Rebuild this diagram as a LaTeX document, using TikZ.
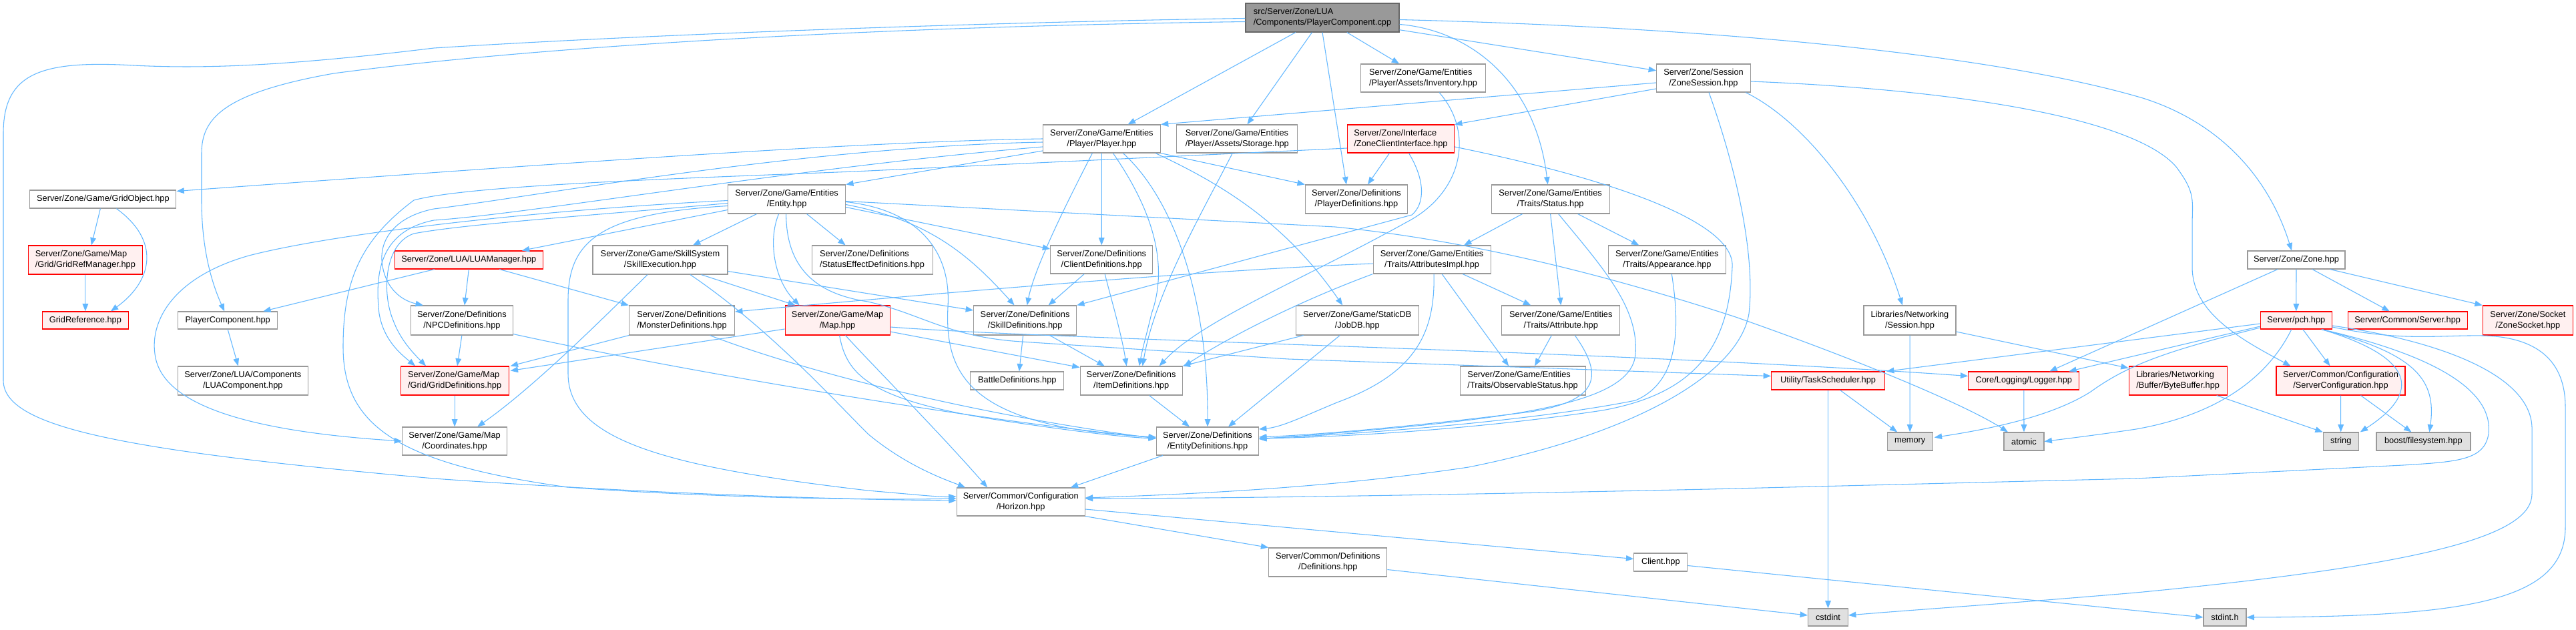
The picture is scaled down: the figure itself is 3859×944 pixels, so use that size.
\documentclass[tikz,border=0pt]{standalone}
\usepackage{fontspec}
\setmainfont{Liberation Sans}
\usetikzlibrary{arrows.meta,calc}
\definecolor{edgec}{HTML}{63B8FF}
\definecolor{nodeb}{HTML}{999999}
\definecolor{redb}{HTML}{FF0000}
\definecolor{redf}{HTML}{FFF0F0}
\definecolor{rootf}{HTML}{999999}
\definecolor{rootb}{HTML}{666666}
\definecolor{sysf}{HTML}{E0E0E0}
\tikzset{
  nb/.style={draw=nodeb, fill=white, line width=0.85pt, inner sep=0pt, font=\fontsize{9.6}{12.2}\selectfont, align=center},
  nl/.style={nb, align=left},
  rn/.style={nb, draw=redb, fill=redf},
  rnl/.style={rn, align=left},
  rootn/.style={nb, draw=rootb, fill=rootf, align=left},
  sysn/.style={nb, fill=sysf},
  edg/.style={draw=edgec, line width=0.8pt, -{Triangle[length=8.5pt,width=6.5pt]}},
}
\newcommand{\nd}[6]{\node[#5, minimum width=#3*0.75pt, minimum height=#4*0.75pt] (#1) at (#2) {#6};}
\begin{document}
\begin{tikzpicture}[x=0.75pt,y=-0.75pt]
\fill[white] (0,0) rectangle (3859,944);
\useasboundingbox (0,0) rectangle (3859,944);
% nodes
\nd{root}{1981,26.5}{230}{43}{rootn}{src/Server/Zone/LUA\\/Components/PlayerComponent.cpp}
\nd{inv}{2132,117}{187}{42}{nl}{Server/Zone/Game/Entities\\/Player/Assets/Inventory.hpp}
\nd{zsess}{2552,117}{141}{42}{nb}{Server/Zone/Session\\/ZoneSession.hpp}
\nd{player}{1650.4,208}{176}{42}{nb}{Server/Zone/Game/Entities\\/Player/Player.hpp}
\nd{storage}{1853.3,208}{181}{42}{nl}{Server/Zone/Game/Entities\\/Player/Assets/Storage.hpp}
\nd{zci}{2098.5,208}{160}{42}{rnl}{Server/Zone/Interface\\/ZoneClientInterface.hpp}
\nd{gridobj}{154.4,298.5}{219}{27}{nb}{Server/Zone/Game/GridObject.hpp}
\nd{entity}{1178.6,298.5}{176}{43}{nb}{Server/Zone/Game/Entities\\/Entity.hpp}
\nd{pdef}{2031.9,298.5}{153}{43}{nb}{Server/Zone/Definitions\\/PlayerDefinitions.hpp}
\nd{status}{2322.6,298.5}{177}{43}{nb}{Server/Zone/Game/Entities\\/Traits/Status.hpp}
\nd{zone}{3440,389.5}{146}{27}{nb}{Server/Zone/Zone.hpp}
\nd{gridrefmgr}{127.9,389.5}{171}{43}{rnl}{Server/Zone/Game/Map\\/Grid/GridRefManager.hpp}
\nd{lua}{702.3,389.5}{222}{27}{rn}{Server/Zone/LUA/LUAManager.hpp}
\nd{skillexec}{989,389.5}{202}{43}{nb}{Server/Zone/Game/SkillSystem\\/SkillExecution.hpp}
\nd{sedef}{1306.6,389.5}{181}{43}{nl}{Server/Zone/Definitions\\/StatusEffectDefinitions.hpp}
\nd{clientdef}{1650.2,389}{153}{42}{nb}{Server/Zone/Definitions\\/ClientDefinitions.hpp}
\nd{attrimpl}{2145.1,389}{176}{42}{nb}{Server/Zone/Game/Entities\\/Traits/AttributesImpl.hpp}
\nd{appearance}{2497.3,389}{176}{42}{nb}{Server/Zone/Game/Entities\\/Traits/Appearance.hpp}
\nd{gridref}{127.9,480}{129}{26}{rn}{GridReference.hpp}
\nd{pcomp}{341.2,480}{149}{26}{nb}{PlayerComponent.hpp}
\nd{npcdef}{691.9,480}{153}{44}{nb}{Server/Zone/Definitions\\/NPCDefinitions.hpp}
\nd{monsterdef}{1021.5,480}{158}{44}{nl}{Server/Zone/Definitions\\/MonsterDefinitions.hpp}
\nd{map}{1254.6,480}{157}{44}{rn}{Server/Zone/Game/Map\\/Map.hpp}
\nd{skilldef}{1535.6,480}{154}{44}{nb}{Server/Zone/Definitions\\/SkillDefinitions.hpp}
\nd{jobdb}{2033.2,480}{184}{44}{nb}{Server/Zone/Game/StaticDB\\/JobDB.hpp}
\nd{attribute}{2338.3,480}{177}{44}{nb}{Server/Zone/Game/Entities\\/Traits/Attribute.hpp}
\nd{libsess}{2861,480}{138}{44}{nb}{Libraries/Networking\\/Session.hpp}
\nd{pch}{3439.8,480}{107}{26}{rn}{Server/pch.hpp}
\nd{server}{3606.7,480}{179}{26}{rn}{Server/Common/Server.hpp}
\nd{zsock}{3786.8,480}{135}{44}{rn}{Server/Zone/Socket\\/ZoneSocket.hpp}
\nd{luacomp}{363.8,570.5}{195}{43}{nb}{Server/Zone/LUA/Components\\/LUAComponent.hpp}
\nd{griddef}{681.1,570.5}{162}{43}{rnl}{Server/Zone/Game/Map\\/Grid/GridDefinitions.hpp}
\nd{battledef}{1523.8,570.5}{140}{27}{nb}{BattleDefinitions.hpp}
\nd{itemdef}{1694.6,570.5}{153}{43}{nb}{Server/Zone/Definitions\\/ItemDefinitions.hpp}
\nd{observ}{2281.1,570.5}{188}{43}{nl}{Server/Zone/Game/Entities\\/Traits/ObservableStatus.hpp}
\nd{tasksched}{2738.5,570.5}{170}{27}{rn}{Utility/TaskScheduler.hpp}
\nd{logger}{3031.8,570.5}{166}{27}{rn}{Core/Logging/Logger.hpp}
\nd{bytebuf}{3262.6,570.5}{147}{43}{rnl}{Libraries/Networking\\/Buffer/ByteBuffer.hpp}
\nd{servconf}{3506.5,570.5}{193}{43}{rn}{Server/Common/Configuration\\/ServerConfiguration.hpp}
\nd{coords}{681.1,661}{157}{42}{nb}{Server/Zone/Game/Map\\/Coordinates.hpp}
\nd{entdef}{1809,661}{153}{42}{nb}{Server/Zone/Definitions\\/EntityDefinitions.hpp}
\nd{memory}{2861.2,661.5}{68}{27}{sysn}{memory}
\nd{atomic}{3032,661.5}{60}{27}{sysn}{atomic}
\nd{string}{3506.7,661.5}{53}{27}{sysn}{string}
\nd{boost}{3630.4,661.5}{141}{27}{sysn}{boost/filesystem.hpp}
\nd{horizon}{1529.2,752}{192}{42}{nb}{Server/Common/Configuration\\/Horizon.hpp}
\nd{definitions}{1989.3,842.5}{177}{43}{nb}{Server/Common/Definitions\\/Definitions.hpp}
\nd{client}{2487.8,842.5}{80}{27}{nb}{Client.hpp}
\nd{cstdint}{2738.5,925}{60}{26}{sysn}{cstdint}
\nd{stdint}{3333,925}{64}{26}{sysn}{stdint.h}
% root edges
\draw[edg] (root) -- (player);
\draw[edg] (root) -- (storage);
\draw[edg] (root) -- (inv);
\draw[edg] (root) -- (zsess);
\draw[edg] (root.south) -- ($(pdef.north)+(-15,0)$);
\draw[edg] ($(root.east)+(0,10)$) .. controls (2200,45) and (2300,120) .. ($(status.north)+(-4,0)$);
\draw[edg] ($(root.east)+(0,3)$) .. controls (2600,42) and (3000,85) .. (3210,147) .. controls (3330,185) and (3400,270) .. ($(zone.north)+(-7,0)$);
\draw[edg] ($(root.west)+(0,1)$) .. controls (1500,33) and (1000,50) .. (650,72) .. controls (420,100) and (300,103) .. (200,98) .. controls (60,90) and (5,110) .. (5,200) -- (5,570) .. controls (5,640) and (180,675) .. (650,717) .. controls (900,735) and (1200,748) .. ($(horizon.west)+(0,-2)$);
\draw[edg] ($(root.west)+(0,6)$) .. controls (1300,40) and (800,70) .. (500,110) .. controls (330,140) and (302,180) .. (302,230) -- (302,300) .. controls (302,380) and (320,430) .. ($(pcomp.north)+(-5,0)$);
% zone session
\draw[edg] ($(zsess.west)+(0,7)$) -- (player.north east);
\draw[edg] ($(zsess.west)+(0,16)$) -- (zci.north east);
\draw[edg] ($(zsess.south east)+(-8,0)$) .. controls (2700,180) and (2800,300) .. ($(libsess.north)+(-11,0)$);
\draw[edg] ($(zsess.south)+(8,0)$) .. controls (2600,250) and (2630,380) .. (2620,470) .. controls (2605,560) and (2450,650) .. (2200,700) .. controls (2000,730) and (1800,740) .. ($(horizon.east)+(0,-6)$);
\draw[edg] ($(zsess.east)+(0,5)$) .. controls (2950,135) and (3200,180) .. (3260,250) .. controls (3290,290) and (3284,300) .. (3284,340) -- (3284,400) .. controls (3284,470) and (3360,510) .. ($(servconf.north)+(-75,0)$);
% player
\draw[edg] (player.west) .. controls (1300,212) and (900,240) .. ($(gridobj.east)+(0,-12)$);
\draw[edg] ($(player.west)+(0,5)$) .. controls (1200,220) and (800,295) .. (650,313) .. controls (590,325) and (570,360) .. (572,390) .. controls (575,430) and (600,450) .. ($(npcdef.north)+(-58,0)$);
\draw[edg] ($(player.west)+(0,18)$) -- (entity.north east);
\draw[edg] (player.south east) -- (pdef.north west);
\draw[edg] ($(player.south)+(-14,0)$) .. controls (1600,300) and (1550,400) .. ($(skilldef.north)+(3,0)$);
\draw[edg] (player.south) -- (clientdef.north);
\draw[edg] ($(player.south)+(17,0)$) .. controls (1730,320) and (1750,400) .. (1725,470) .. controls (1718,500) and (1712,520) .. ($(itemdef.north)+(12,0)$);
\draw[edg] ($(player.south)+(32,0)$) .. controls (1760,300) and (1810,450) .. (entdef.north);
\draw[edg] ($(player.south east)+(-8,0)$) .. controls (1840,280) and (1930,340) .. ($(jobdb.north)+(-22,0)$);
\draw[edg] ($(player.west)+(0,12)$) .. controls (1200,250) and (800,320) .. (650,330) .. controls (575,345) and (560,400) .. (568,470) .. controls (575,510) and (600,530) .. ($(griddef.north)+(-59,0)$);
% entity
\draw[edg] ($(entity.west)+(0,16)$) -- ($(lua.north east)+(-32,0)$);
\draw[edg] ($(entity.south)+(-45,0)$) -- ($(skillexec.north)+(49,0)$);
\draw[edg] ($(entity.south)+(30,0)$) -- ($(sedef.north)+(-40,0)$);
\draw[edg] ($(entity.south)+(-12,0)$) .. controls (1150,360) and (1160,420) .. ($(map.north)+(-57,0)$);
\draw[edg] ($(entity.east)+(0,12)$) -- ($(clientdef.west)+(0,-16)$);
\draw[edg] ($(entity.east)+(0,8)$) .. controls (1390,330) and (1450,380) .. ($(skilldef.north)+(-16,0)$);
\draw[edg] ($(entity.east)+(0,4)$) .. controls (1380,315) and (1425,380) .. (1420,460) .. controls (1415,560) and (1450,640) .. ($(entdef.west)+(0,-6)$);
\draw[edg] ($(entity.west)+(0,10)$) .. controls (900,320) and (851,360) .. (851,450) -- (851,560) .. controls (851,660) and (1000,700) .. (1300,735) .. controls (1380,742) and (1410,745) .. ($(horizon.west)+(0,-8)$);
\draw[edg] ($(entity.east)+(0,3)$) -- (2000,340) .. controls (2200,360) and (2400,410) .. (2600,475) .. controls (2800,545) and (2950,610) .. ($(atomic.north)+(-24,0)$);
\draw[edg] ($(entity.west)+(0,6)$) .. controls (900,322) and (700,335) .. (620,350) .. controls (575,365) and (572,440) .. (589,480) .. controls (600,510) and (620,530) .. ($(griddef.north)+(-43,0)$);
\draw[edg] ($(entity.west)+(0,2)$) .. controls (800,315) and (500,350) .. (373,383) .. controls (260,415) and (225,480) .. (232,530) .. controls (240,600) and (350,645) .. (coords.west);
\draw[edg] ($(entity.south)+(-1,0)$) .. controls (1178,400) and (1220,440) .. (1300,452) .. controls (1380,470) and (1420,505) .. (1530,512) -- (1930,538) -- ($(tasksched.west)+(0,-7)$);
% zone client interface
\draw[edg] ($(zci.south)+(-17,0)$) -- ($(pdef.north)+(17,0)$);
\draw[edg] ($(zci.south)+(12,0)$) .. controls (2135,270) and (2135,305) .. (2115,322) -- (skilldef.north east);
\draw[edg] ($(zci.east)+(0,12)$) .. controls (2400,265) and (2600,330) .. (2595,400) .. controls (2590,520) and (2540,590) .. (2400,615) .. controls (2200,645) and (2000,655) .. ($(entdef.east)+(0,-4)$);
\draw[edg] ($(zci.west)+(0,14)$) -- (1280,257) .. controls (1000,268) and (700,278) .. (620,300) .. controls (540,360) and (514,420) .. (514,520) .. controls (514,640) and (600,695) .. (850,730) .. controls (1050,745) and (1300,750) .. ($(horizon.west)+(0,-5)$);
% left part
\draw[edg] ($(gridobj.south)+(-4,0)$) -- ($(gridrefmgr.north)+(9,0)$);
\draw[edg] ($(gridobj.south)+(20,0)$) .. controls (240,360) and (230,420) .. ($(gridref.north)+(38,0)$);
\draw[edg] (gridrefmgr) -- (gridref);
\draw[edg] (pcomp.south) -- ($(luacomp.north)+(-7,0)$);
\draw[edg] ($(lua.south west)+(60,0)$) -- ($(pcomp.north east)+(-22,0)$);
\draw[edg] (lua.south) -- ($(npcdef.north)+(4,0)$);
\draw[edg] ($(lua.south)+(46,0)$) -- (monsterdef.north west);
\draw[edg] (npcdef.south) -- ($(griddef.north)+(4,0)$);
\draw[edg] ($(npcdef.south east)+(0,-2)$) .. controls (1050,562) and (1500,635) .. ($(entdef.west)+(0,-5)$);
\draw[edg] (monsterdef.south west) -- ($(griddef.north east)+(2,0)$);
\draw[edg] ($(monsterdef.south)+(42,0)$) .. controls (1200,555) and (1450,620) .. ($(entdef.west)+(0,-4)$);
\draw[edg] ($(map.west)+(0,13)$) -- ($(griddef.east)+(2,-15)$);
\draw[edg] ($(map.east)+(0,17)$) -- ($(itemdef.west)+(0,-20)$);
\draw[edg] ($(map.south)+(12,0)$) .. controls (1300,540) and (1400,640) .. ($(horizon.north)+(-50,0)$);
\draw[edg] ($(map.south)+(3,0)$) .. controls (1268,560) and (1300,600) .. (1500,630) .. controls (1600,645) and (1680,655) .. ($(entdef.west)+(0,-4)$);
\draw[edg] ($(map.east)+(0,10)$) .. controls (1600,510) and (2400,525) .. ($(logger.west)+(0,-7)$);
\draw[edg] ($(skillexec.south east)+(-40,0)$) -- ($(map.north)+(-63,0)$);
\draw[edg] ($(skillexec.south)+(-19,0)$) .. controls (900,480) and (800,580) .. ($(coords.north east)+(-45,0)$);
\draw[edg] ($(skillexec.south)+(45,0)$) .. controls (1150,490) and (1250,600) .. (1300,650) .. controls (1360,700) and (1420,720) .. ($(horizon.north)+(-83,0)$);
\draw[edg] ($(skillexec.east)+(0,17)$) -- ($(skilldef.west)+(0,-15)$);
\draw[edg] (griddef) -- (coords);
% definitions
\draw[edg] ($(clientdef.south)+(-26,0)$) -- ($(skilldef.north)+(35,0)$);
\draw[edg] ($(clientdef.south)+(5,0)$) .. controls (1665,450) and (1680,500) .. ($(itemdef.north)+(-7,0)$);
\draw[edg] ($(skilldef.south)+(-3,0)$) -- ($(battledef.north)+(3,0)$);
\draw[edg] ($(skilldef.south)+(37,0)$) -- ($(itemdef.north)+(-40,0)$);
\draw[edg] ($(itemdef.south)+(27,0)$) -- ($(entdef.north)+(-27,0)$);
\draw[edg] ($(entdef.south west)+(10,0)$) -- ($(horizon.north east)+(-22,0)$);
\draw[edg] ($(jobdb.south)+(-26,0)$) -- ($(entdef.north)+(31,0)$);
\draw[edg] ($(jobdb.south west)+(12,0)$) -- (itemdef.north east);
\draw[edg] ($(storage.south)+(-7,0)$) .. controls (1800,320) and (1730,440) .. ($(itemdef.north)+(17,0)$);
\draw[edg] ($(inv.south)+(24,0)$) .. controls (2210,200) and (2190,290) .. (2107,333) .. controls (1950,420) and (1800,480) .. ($(itemdef.north east)+(-35,0)$);
\draw[edg] (attrimpl.south west) .. controls (1950,450) and (1850,500) .. ($(itemdef.north east)+(2,0)$);
% traits
\draw[edg] ($(status.south)+(-42,0)$) -- ($(attrimpl.north)+(48,0)$);
\draw[edg] ($(status.south)+(41,0)$) -- ($(appearance.north)+(-42,0)$);
\draw[edg] (status.south) -- (attribute.north);
\draw[edg] ($(status.south)+(12,0)$) .. controls (2400,400) and (2455,460) .. (2450,530) .. controls (2445,610) and (2250,630) .. ($(entdef.east)+(0,-3)$);
\draw[edg] ($(attrimpl.south)+(46,0)$) -- ($(attribute.north)+(-45,0)$);
\draw[edg] ($(attrimpl.south)+(15,0)$) -- ($(observ.north)+(-21,0)$);
\draw[edg] ($(attrimpl.south)+(3,0)$) .. controls (2150,500) and (2120,560) .. (2003,603) .. controls (1950,625) and (1920,640) .. ($(entdef.east)+(0,-18)$);
\draw[edg] ($(attrimpl.west)+(0,6)$) .. controls (1800,405) and (1400,440) .. ($(monsterdef.east)+(0,-13)$);
\draw[edg] ($(attribute.south)+(-14,0)$) -- ($(observ.north)+(18,0)$);
\draw[edg] ($(attribute.south)+(21,0)$) .. controls (2400,560) and (2400,600) .. (2293,617) .. controls (2150,635) and (2000,650) .. ($(entdef.east)+(0,-6)$);
\draw[edg] ($(appearance.south)+(7,0)$) .. controls (2515,480) and (2520,570) .. (2450,600) .. controls (2300,630) and (2050,650) .. ($(entdef.east)+(0,-4)$);
% lower right
\draw[edg] (libsess) -- (memory);
\draw[edg] ($(libsess.east)+(0,17)$) -- ($(bytebuf.west)+(0,-19)$);
\draw[edg] ($(tasksched.south)+(18,0)$) -- ($(memory.north)+(-19,0)$);
\draw[edg] (tasksched) -- (cstdint);
\draw[edg] (logger) -- (atomic);
\draw[edg] ($(zone.south)+(-28,0)$) -- ($(logger.north east)+(-45,0)$);
\draw[edg] (zone) -- (pch);
\draw[edg] ($(zone.south)+(24,0)$) -- ($(server.north)+(-27,0)$);
\draw[edg] ($(zone.south east)+(-23,0)$) -- (zsock.north west);
\draw[edg] ($(pch.south)+(10,0)$) -- ($(servconf.north)+(-16,0)$);
\draw[edg] ($(pch.south east)+(-16,0)$) .. controls (3600,530) and (3640,580) .. ($(string.north east)+(2,0)$);
\draw[edg] ($(pch.south east)+(-16,0)$) .. controls (3620,530) and (3650,570) .. ($(boost.north)+(9,0)$);
\draw[edg] ($(pch.south east)+(-16,0)$) .. controls (3660,535) and (3735,590) .. (3728,650) .. controls (3722,690) and (3680,692) .. (3600,697) -- (3200,717) -- (2560,733) .. controls (2100,743) and (1800,747) .. ($(horizon.east)+(0,-5)$);
\draw[edg] ($(pch.east)+(0,8)$) .. controls (3650,510) and (3790,560) .. (3793,640) -- (3793,740) .. controls (3793,800) and (3650,845) .. (3200,888) .. controls (3000,905) and (2850,915) .. ($(cstdint.east)+(0,-3)$);
\draw[edg] ($(pch.east)+(0,10)$) .. controls (3600,512) and (3650,502) .. (3720,503) .. controls (3800,505) and (3843,540) .. (3843,610) -- (3843,790) .. controls (3843,900) and (3700,924) .. (stdint.east);
\draw[edg] ($(pch.west)+(0,5)$) -- ($(tasksched.north east)+(2,0)$);
\draw[edg] ($(pch.west)+(0,9)$) -- ($(logger.north east)+(-16,0)$);
\draw[edg] ($(pch.west)+(0,11)$) .. controls (3250,525) and (3190,545) .. (3132,587) .. controls (3080,620) and (3000,640) .. ($(memory.east)+(2,-6)$);
\draw[edg] ($(pch.south)+(-7,0)$) .. controls (3400,560) and (3330,620) .. (3200,643) .. controls (3140,652) and (3090,658) .. (atomic.east);
\draw[edg] (servconf) -- (string);
\draw[edg] ($(servconf.south)+(30,0)$) -- ($(boost.north)+(-18,0)$);
\draw[edg] ($(bytebuf.south east)+(-16,0)$) -- (string.north west);
\draw[edg] (horizon.south east) -- (definitions.north west);
\draw[edg] ($(horizon.east)+(0,11)$) -- ($(client.west)+(0,-5)$);
\draw[edg] ($(definitions.east)+(0,11)$) -- ($(cstdint.west)+(0,-3)$);
\draw[edg] ($(client.east)+(0,5)$) -- (stdint.west);
\end{tikzpicture}
\end{document}
